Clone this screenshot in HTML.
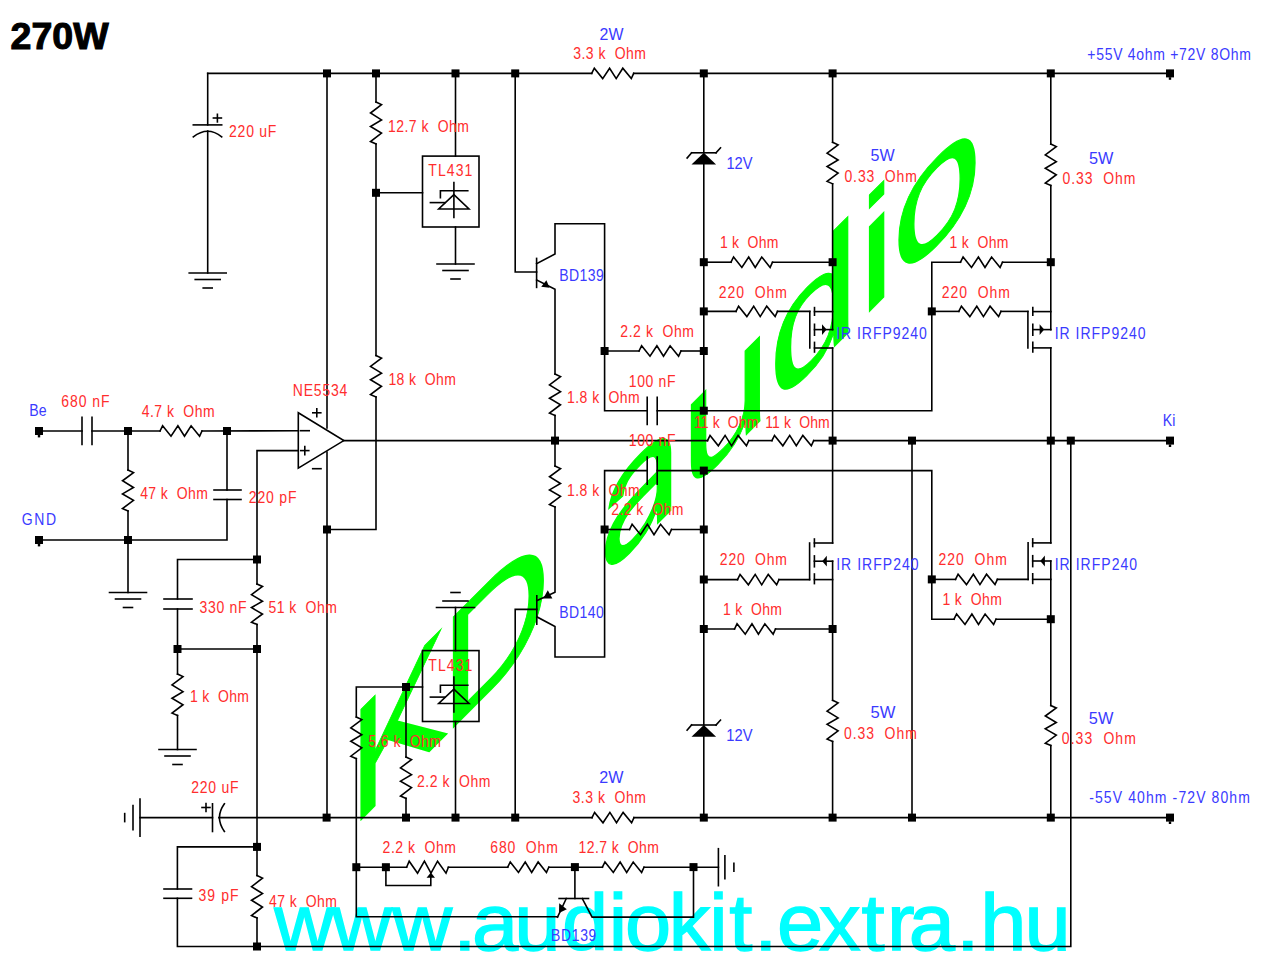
<!DOCTYPE html>
<html><head><meta charset="utf-8"><title>270W schematic</title>
<style>
html,body{margin:0;padding:0;background:#fff;}
body{width:1280px;height:969px;overflow:hidden;}
svg{display:block;}
svg text{font-family:"Liberation Sans",sans-serif;}
.s text{stroke:none;}
svg .d{fill:#000;stroke:none;}
</style></head><body>
<svg width="1280" height="969" viewBox="0 0 1280 969">
<g font-family="Liberation Sans, sans-serif"><text x="10.6" y="49.3" fill="#000" stroke="#000" stroke-width="1.1" style="font-size:37.6px;font-weight:bold" textLength="98" lengthAdjust="spacingAndGlyphs">270W</text>
<text x="347.8" y="1181" fill="#00ff00" stroke="#00ff00" stroke-width="1.2" style="font-size:161px" transform="matrix(1,-1,0,1,0,0) translate(361,0) scale(0.93,1) translate(-361,0)">K</text>
<text x="440.2" y="1181" fill="#00ff00" stroke="#00ff00" stroke-width="1.2" style="font-size:161px" transform="matrix(1,-1,0,1,0,0) translate(453.2,0) scale(0.943,1) translate(-453.2,0)">D</text>
<path d="M629.37 553.21Q617.47 565.10 611.48 564.33Q605.50 563.55 605.50 551.76Q605.50 538.55 613.56 523.41Q621.63 508.27 639.58 489.85L657.32 471.80V467.16Q657.32 456.78 653.23 456.39Q649.14 455.99 640.39 464.75Q631.55 473.58 627.54 480.82Q623.53 488.06 622.72 495.94L609.00 508.32Q612.36 482.01 640.68 453.69Q655.57 438.80 663.08 438.64Q670.60 438.47 670.60 452.38V489.02V510.40L657.76 523.24L657.32 507.41Q652.28 522.19 645.60 532.92Q638.93 543.65 629.37 553.21ZM632.36 539.60Q639.58 532.38 645.20 523.22Q650.82 514.06 654.07 504.64Q657.32 495.22 657.32 488.70V481.70L642.94 496.40Q633.67 505.82 628.89 512.49Q624.11 519.16 621.56 525.64Q619.00 532.13 619.00 538.49Q619.00 545.41 622.47 545.72Q625.93 546.02 632.36 539.60Z" fill="#00ff00" stroke="#00ff00" stroke-width="1.3"/>
<text x="681" y="1181" fill="#00ff00" stroke="#00ff00" stroke-width="1.2" style="font-size:161px" transform="matrix(1,-1,0,1,0,0)">u</text>
<text x="768.9" y="1181" fill="#00ff00" stroke="#00ff00" stroke-width="1.2" style="font-size:161px" transform="matrix(1,-1,0,1,0,0)">d</text>
<text x="858.8" y="1181" fill="#00ff00" stroke="#00ff00" stroke-width="1.2" style="font-size:161px" transform="matrix(1,-1,0,1,0,0)">i</text>
<text x="892.2" y="1181" fill="#00ff00" stroke="#00ff00" stroke-width="1.2" style="font-size:161px" transform="matrix(1,-1,0,1,0,0)">o</text>
<text x="274.14 332.09 392.29 453.17 472.11 514.38 561.9 608.7 624.97 668.74 709.3 729.15 754.37 776.9 818.98 861.4 886.91 908.66 956.37 980.19 1024.48" y="950.5" fill="#00ffff" stroke="#00ffff" stroke-width="1.4" style="font-size:83px" transform="translate(0,950.5) scale(1,0.968) translate(0,-950.5)">www.audiokit.extra.hu</text></g>
<g class="s" fill="none" stroke="#000" stroke-width="1.6" stroke-linecap="square" stroke-linejoin="miter"><polyline points="207.7,73.4 591.7,73.4"/>
<polyline points="591.7,73.4 594.3,68.2 602.7,78.6 609.6,68.2 616.2,78.6 622.8,68.2 631.3,78.6 633.7,73.4"/>
<polyline points="633.7,73.4 1170,73.4"/>
<rect class="d" x="323" y="69.4" width="8" height="8"/>
<rect class="d" x="372" y="69.4" width="8" height="8"/>
<rect class="d" x="451.5" y="69.4" width="8" height="8"/>
<rect class="d" x="511.2" y="69.4" width="8" height="8"/>
<rect class="d" x="699.8" y="69.4" width="8" height="8"/>
<rect class="d" x="828.6" y="69.4" width="8" height="8"/>
<rect class="d" x="1046.8" y="69.4" width="8" height="8"/>
<rect class="d" x="1166" y="69.4" width="8" height="8"/>
<rect class="d" x="1168.8" y="77.2" width="2.4" height="2.6"/>
<polyline points="140,817.6 212.5,817.6"/>
<polyline points="218.9,817.6 592,817.6"/>
<polyline points="592,817.6 594.6,812.4 603,822.8 609.9,812.4 616.5,822.8 623.1,812.4 631.6,822.8 634,817.6"/>
<polyline points="634,817.6 1170,817.6"/>
<rect class="d" x="322.6" y="813.6" width="8" height="8"/>
<rect class="d" x="402" y="813.6" width="8" height="8"/>
<rect class="d" x="451.5" y="813.6" width="8" height="8"/>
<rect class="d" x="511.2" y="813.6" width="8" height="8"/>
<rect class="d" x="699.8" y="813.6" width="8" height="8"/>
<rect class="d" x="828.6" y="813.6" width="8" height="8"/>
<rect class="d" x="908" y="813.6" width="8" height="8"/>
<rect class="d" x="1046.8" y="813.6" width="8" height="8"/>
<rect class="d" x="1166" y="813.6" width="8" height="8"/>
<rect class="d" x="1168.8" y="821.4" width="2.4" height="2.6"/>
<line x1="140" y1="799.1" x2="140" y2="836.1"/>
<line x1="133" y1="805.6" x2="133" y2="829.6"/>
<line x1="124.7" y1="813.6" x2="124.7" y2="821.6"/>
<line x1="212.5" y1="803.8" x2="212.5" y2="831.5"/>
<path d="M224.4,803.8 Q214.5,817.6 224.4,831.5" fill="none"/>
<line x1="202" y1="807.5" x2="210" y2="807.5"/>
<line x1="206" y1="803.5" x2="206" y2="811.5"/>
<polyline points="207.7,73.4 207.7,124.9"/>
<line x1="193.3" y1="124.9" x2="221.7" y2="124.9"/>
<path d="M193.3,136.9 Q207.7,125.5 221.7,136.9" fill="none"/>
<polyline points="207.7,131 207.7,273"/>
<line x1="189.2" y1="273" x2="226.2" y2="273"/>
<line x1="195.2" y1="279.5" x2="220.2" y2="279.5"/>
<line x1="203.2" y1="288" x2="212.2" y2="288"/>
<line x1="213.4" y1="118" x2="221.4" y2="118"/>
<line x1="217.4" y1="114.3" x2="217.4" y2="121.9"/>
<polyline points="327,73.4 327,428"/>
<polyline points="327,452 327,817.6"/>
<rect class="d" x="323" y="525.5" width="8" height="8"/>
<polygon fill="none" points="298.3,412.8 343.8,440.6 298.3,468.2"/>
<line x1="300.5" y1="430.7" x2="309.2" y2="430.7"/>
<line x1="300.8" y1="450.6" x2="308.8" y2="450.6"/>
<line x1="304.8" y1="446.6" x2="304.8" y2="454.6"/>
<line x1="312.8" y1="412.8" x2="320.8" y2="412.8"/>
<line x1="316.8" y1="408.8" x2="316.8" y2="416.8"/>
<line x1="312.7" y1="468.7" x2="321" y2="468.7"/>
<polyline points="376,73.4 376,102"/>
<polyline points="376,102 381.5,104.6 370.5,113 381.5,119.9 370.5,126.5 381.5,133.1 370.5,141.6 376,144"/>
<polyline points="376,144 376,355.5"/>
<polyline points="376,355.5 381.5,358.07 370.5,366.37 381.5,373.19 370.5,379.71 381.5,386.23 370.5,394.63 376,397"/>
<polyline points="376,397 376,529.5 327,529.5"/>
<rect class="d" x="372" y="188.8" width="8" height="8"/>
<line x1="376" y1="192.8" x2="422.5" y2="192.8"/>
<rect x="422.5" y="156.1" width="56.5" height="70.9" fill="none"/>
<line x1="453.9" y1="182.5" x2="453.9" y2="217.5"/>
<polyline points="440.4,197.8 440.4,190.8 467.8,190.8"/>
<polygon fill="none" points="453.9,194.7 438.7,209 469,209"/>
<line x1="430.4" y1="202.6" x2="444.8" y2="202.6"/>
<text x="428.29" y="176.3" fill="#ff2d2d" style="font-size:14px;" textLength="44" lengthAdjust="spacing" transform="translate(0,176.3) scale(1,1.143) translate(0,-176.3)">TL431</text>
<line x1="455.5" y1="73.4" x2="455.5" y2="156.1"/>
<line x1="455.5" y1="227" x2="455.5" y2="264"/>
<line x1="437" y1="264" x2="474" y2="264"/>
<line x1="443" y1="270.5" x2="468" y2="270.5"/>
<line x1="451" y1="279" x2="460" y2="279"/>
<polyline points="515.2,73.4 515.2,272 536.6,272"/>
<line x1="536.6" y1="258.4" x2="536.6" y2="287.4"/>
<polyline points="536.6,263.7 555,254 555,223.8 604.6,223.8 604.6,410.7 647.2,410.7"/>
<polyline points="536.6,280 555,289.2 555,374"/>
<polygon class="d" points="549.5,287.8 541.2,286.8 546.4,280.2"/>
<polyline points="555,374 560.5,376.57 549.5,384.87 560.5,391.69 549.5,398.21 560.5,404.73 549.5,413.13 555,415.5"/>
<polyline points="555,415.5 555,466"/>
<polyline points="555,466 560.5,468.54 549.5,476.74 560.5,483.47 549.5,489.92 560.5,496.36 549.5,504.66 555,507"/>
<polyline points="555,507 555,592.3 536.8,600.6"/>
<rect class="d" x="551" y="436.6" width="8" height="8"/>
<line x1="536.8" y1="595.8" x2="536.8" y2="624.3"/>
<polyline points="515.2,817.6 515.2,609.4 536.8,609.4"/>
<polyline points="536.8,616.8 555,626.5 555,657 604.6,657 604.6,470.6 647.2,470.6"/>
<polygon class="d" points="543.2,598.6 552.4,598.4 547.8,590.2"/>
<line x1="647.2" y1="397.2" x2="647.2" y2="424.4"/>
<line x1="657.2" y1="397.2" x2="657.2" y2="424.4"/>
<line x1="647.2" y1="457" x2="647.2" y2="484.2"/>
<line x1="657.2" y1="457" x2="657.2" y2="484.2"/>
<polyline points="657.2,410.7 931.8,410.7 931.8,262.2 960.5,262.2"/>
<polyline points="960.5,262.2 963.1,257 971.5,267.4 978.4,257 985,267.4 991.6,257 1000.1,267.4 1002.5,262.2"/>
<polyline points="1002.5,262.2 1050.8,262.2"/>
<polyline points="657.2,470.6 931.8,470.6 931.8,619.2 954,619.2"/>
<polyline points="954,619.2 956.6,614 965,624.4 971.9,614 978.5,624.4 985.1,614 993.6,624.4 996,619.2"/>
<polyline points="996,619.2 1050.8,619.2"/>
<rect class="d" x="600.6" y="347" width="8" height="8"/>
<rect class="d" x="600.6" y="525.5" width="8" height="8"/>
<polyline points="604.6,351 639,351"/>
<polyline points="639,351 641.6,345.8 650,356.2 656.9,345.8 663.5,356.2 670.1,345.8 678.6,356.2 681,351"/>
<polyline points="681,351 703.8,351"/>
<polyline points="604.6,529.5 629.5,529.5"/>
<polyline points="629.5,529.5 632.1,524.3 640.5,534.7 647.4,524.3 654,534.7 660.6,524.3 669.1,534.7 671.5,529.5"/>
<polyline points="671.5,529.5 703.8,529.5"/>
<polyline points="343.8,440.6 707.5,440.6"/>
<polyline points="707.5,440.6 710.06,435.4 718.32,445.8 725.1,435.4 731.59,445.8 738.08,435.4 746.44,445.8 748.8,440.6"/>
<polyline points="748.8,440.6 771.9,440.6"/>
<polyline points="771.9,440.6 774.49,435.4 782.85,445.8 789.71,435.4 796.28,445.8 802.85,435.4 811.31,445.8 813.7,440.6"/>
<polyline points="813.7,440.6 1170,440.6"/>
<rect class="d" x="828.6" y="436.6" width="8" height="8"/>
<rect class="d" x="908" y="436.6" width="8" height="8"/>
<rect class="d" x="1046.8" y="436.6" width="8" height="8"/>
<rect class="d" x="1066.8" y="436.6" width="8" height="8"/>
<rect class="d" x="1166" y="436.6" width="8" height="8"/>
<rect class="d" x="1168.8" y="444.4" width="2.4" height="2.6"/>
<polyline points="703.8,73.4 703.8,152.8"/>
<line x1="691.6" y1="152.8" x2="716" y2="152.8"/>
<line x1="691.6" y1="152.8" x2="687.1" y2="158"/>
<line x1="716" y1="152.8" x2="720.5" y2="147.9"/>
<polygon class="d" points="703.8,152.8 691.5,164.5 716.1,164.5"/>
<polyline points="703.8,164.5 703.8,410.7"/>
<rect class="d" x="699.8" y="258.2" width="8" height="8"/>
<rect class="d" x="699.8" y="307.4" width="8" height="8"/>
<rect class="d" x="699.8" y="347" width="8" height="8"/>
<rect class="d" x="699.8" y="406.7" width="8" height="8"/>
<polyline points="703.8,470.6 703.8,725"/>
<line x1="691.6" y1="725" x2="716" y2="725"/>
<line x1="691.6" y1="725" x2="687.1" y2="730.2"/>
<line x1="716" y1="725" x2="720.5" y2="720.1"/>
<polygon class="d" points="703.8,725 691.5,736.7 716.1,736.7"/>
<polyline points="703.8,736.7 703.8,817.6"/>
<rect class="d" x="699.8" y="466.6" width="8" height="8"/>
<rect class="d" x="699.8" y="525.5" width="8" height="8"/>
<rect class="d" x="699.8" y="575.5" width="8" height="8"/>
<rect class="d" x="699.8" y="625" width="8" height="8"/>
<polyline points="703.8,262.2 731,262.2"/>
<polyline points="731,262.2 733.57,257 741.87,267.4 748.69,257 755.21,267.4 761.73,257 770.13,267.4 772.5,262.2"/>
<polyline points="772.5,262.2 832.6,262.2"/>
<rect class="d" x="828.6" y="258.2" width="8" height="8"/>
<polyline points="703.8,311.4 736,311.4"/>
<polyline points="736,311.4 738.57,306.2 746.87,316.6 753.69,306.2 760.21,316.6 766.73,306.2 775.13,316.6 777.5,311.4"/>
<polyline points="777.5,311.4 809.8,311.4"/>
<line x1="809.8" y1="311.6" x2="809.8" y2="348"/>
<line x1="814.5" y1="307.6" x2="814.5" y2="315.2"/>
<line x1="814.5" y1="324.3" x2="814.5" y2="335.2"/>
<line x1="814.5" y1="342.4" x2="814.5" y2="352"/>
<line x1="814.5" y1="311.6" x2="832.6" y2="311.6"/>
<line x1="814.5" y1="329.6" x2="832.6" y2="329.6"/>
<line x1="814.5" y1="348" x2="832.6" y2="348"/>
<polygon class="d" points="826.6,329.6 822,324.2 822,335"/>
<polyline points="832.6,73.4 832.6,142.3"/>
<polyline points="832.6,142.3 838.1,144.87 827.1,153.17 838.1,159.99 827.1,166.51 838.1,173.03 827.1,181.43 832.6,183.8"/>
<polyline points="832.6,183.8 832.6,329.6"/>
<polyline points="832.6,348 832.6,543"/>
<polyline points="703.8,579.6 737.5,579.6"/>
<polyline points="737.5,579.6 740.07,574.4 748.37,584.8 755.19,574.4 761.71,584.8 768.23,574.4 776.63,584.8 779,579.6"/>
<polyline points="779,579.6 809.6,579.6"/>
<line x1="809.6" y1="543" x2="809.6" y2="579.6"/>
<line x1="814.4" y1="539" x2="814.4" y2="546.6"/>
<line x1="814.4" y1="555.9" x2="814.4" y2="566.8"/>
<line x1="814.4" y1="574" x2="814.4" y2="583.6"/>
<line x1="814.4" y1="543" x2="832.6" y2="543"/>
<line x1="814.4" y1="561.2" x2="832.6" y2="561.2"/>
<line x1="814.4" y1="579.6" x2="832.6" y2="579.6"/>
<polygon class="d" points="822.2,561.2 826.8,555.8 826.8,566.6"/>
<polyline points="832.6,561.2 832.6,700.3"/>
<polyline points="832.6,700.3 838.1,702.85 827.1,711.09 838.1,717.86 827.1,724.33 838.1,730.81 827.1,739.15 832.6,741.5"/>
<polyline points="832.6,741.5 832.6,817.6"/>
<polyline points="703.8,629 734.5,629"/>
<polyline points="734.5,629 737.04,623.8 745.24,634.2 751.97,623.8 758.42,634.2 764.86,623.8 773.16,634.2 775.5,629"/>
<polyline points="775.5,629 832.6,629"/>
<rect class="d" x="828.6" y="625" width="8" height="8"/>
<rect class="d" x="927.8" y="307.4" width="8" height="8"/>
<polyline points="931.8,311.4 958.8,311.4"/>
<polyline points="958.8,311.4 961.41,306.2 969.85,316.6 976.79,306.2 983.42,316.6 990.05,306.2 998.59,316.6 1001,311.4"/>
<polyline points="1001,311.4 1027.9,311.4"/>
<line x1="1027.9" y1="311.6" x2="1027.9" y2="347.9"/>
<line x1="1032.8" y1="307.6" x2="1032.8" y2="315.2"/>
<line x1="1032.8" y1="324.3" x2="1032.8" y2="335.2"/>
<line x1="1032.8" y1="342.3" x2="1032.8" y2="351.9"/>
<line x1="1032.8" y1="311.6" x2="1050.8" y2="311.6"/>
<line x1="1032.8" y1="329.6" x2="1050.8" y2="329.6"/>
<line x1="1032.8" y1="347.9" x2="1050.8" y2="347.9"/>
<polygon class="d" points="1044.2,329.6 1039.6,324.2 1039.6,335"/>
<rect class="d" x="1046.8" y="258.2" width="8" height="8"/>
<polyline points="1050.8,73.4 1050.8,144"/>
<polyline points="1050.8,144 1056.3,146.57 1045.3,154.87 1056.3,161.69 1045.3,168.21 1056.3,174.73 1045.3,183.13 1050.8,185.5"/>
<polyline points="1050.8,185.5 1050.8,329.6"/>
<polyline points="1050.8,347.9 1050.8,543"/>
<rect class="d" x="927.8" y="575.4" width="8" height="8"/>
<polyline points="931.8,579.4 955.5,579.4"/>
<polyline points="955.5,579.4 958.09,574.2 966.47,584.6 973.36,574.2 979.94,584.6 986.53,574.2 995.01,584.6 997.4,579.4"/>
<polyline points="997.4,579.4 1028.1,579.4"/>
<line x1="1028.1" y1="542.9" x2="1028.1" y2="579.4"/>
<line x1="1032.7" y1="538.9" x2="1032.7" y2="546.5"/>
<line x1="1032.7" y1="555.7" x2="1032.7" y2="566.6"/>
<line x1="1032.7" y1="573.8" x2="1032.7" y2="583.4"/>
<line x1="1032.7" y1="542.9" x2="1050.8" y2="542.9"/>
<line x1="1032.7" y1="561" x2="1050.8" y2="561"/>
<line x1="1032.7" y1="579.4" x2="1050.8" y2="579.4"/>
<polygon class="d" points="1040.3,561 1044.9,555.6 1044.9,566.4"/>
<polyline points="1050.8,561 1050.8,705.5"/>
<polyline points="1050.8,705.5 1056.3,707.98 1045.3,715.98 1056.3,722.55 1045.3,728.83 1056.3,735.12 1045.3,743.21 1050.8,745.5"/>
<polyline points="1050.8,745.5 1050.8,817.6"/>
<rect class="d" x="1046.8" y="615.2" width="8" height="8"/>
<line x1="912" y1="440.6" x2="912" y2="817.6"/>
<polyline points="1070.8,440.6 1070.8,946.5 257,946.5"/>
<rect class="d" x="35" y="427" width="8" height="8"/>
<rect class="d" x="37.8" y="434.8" width="2.4" height="2.6"/>
<polyline points="39,431 82,431"/>
<line x1="82" y1="417.2" x2="82" y2="444.5"/>
<line x1="92" y1="417.2" x2="92" y2="444.5"/>
<polyline points="92,431 160,431"/>
<polyline points="160,431 162.6,425.8 171,436.2 177.9,425.8 184.5,436.2 191.1,425.8 199.6,436.2 202,431"/>
<polyline points="202,431 298.3,430.7"/>
<rect class="d" x="124" y="427" width="8" height="8"/>
<rect class="d" x="223" y="427" width="8" height="8"/>
<polyline points="128,431 128,470"/>
<polyline points="128,470 133.5,472.54 122.5,480.74 133.5,487.47 122.5,493.92 133.5,500.36 122.5,508.66 128,511"/>
<polyline points="128,511 128,592.5"/>
<line x1="109.5" y1="592.5" x2="146.5" y2="592.5"/>
<line x1="115.5" y1="599" x2="140.5" y2="599"/>
<line x1="123.5" y1="607.5" x2="132.5" y2="607.5"/>
<rect class="d" x="35" y="536" width="8" height="8"/>
<rect class="d" x="37.8" y="543.8" width="2.4" height="2.6"/>
<rect class="d" x="124" y="536" width="8" height="8"/>
<polyline points="39,540 227,540 227,499.5"/>
<line x1="214" y1="499.5" x2="241" y2="499.5"/>
<line x1="214" y1="490" x2="241" y2="490"/>
<line x1="227" y1="490" x2="227" y2="431"/>
<polyline points="298.3,450.6 257,450.6 257,584"/>
<polyline points="257,584 262.5,586.51 251.5,594.61 262.5,601.26 251.5,607.62 262.5,613.99 251.5,622.19 257,624.5"/>
<polyline points="257,624.5 257,875.5"/>
<polyline points="257,875.5 262.5,878.13 251.5,886.63 262.5,893.61 251.5,900.29 262.5,906.97 251.5,915.57 257,918"/>
<polyline points="257,918 257,946.5"/>
<rect class="d" x="253" y="555.5" width="8" height="8"/>
<rect class="d" x="253" y="645" width="8" height="8"/>
<rect class="d" x="173.5" y="645" width="8" height="8"/>
<rect class="d" x="253" y="842.9" width="8" height="8"/>
<rect class="d" x="253" y="942.5" width="8" height="8"/>
<polyline points="257,559.5 177.5,559.5 177.5,599"/>
<line x1="164" y1="599" x2="192" y2="599"/>
<line x1="164" y1="609" x2="192" y2="609"/>
<polyline points="177.5,609 177.5,674"/>
<polyline points="177.5,649 257,649"/>
<polyline points="177.5,674 183,676.57 172,684.87 183,691.69 172,698.21 183,704.73 172,713.13 177.5,715.5"/>
<polyline points="177.5,715.5 177.5,749.5"/>
<line x1="159" y1="749.5" x2="196" y2="749.5"/>
<line x1="165" y1="756" x2="190" y2="756"/>
<line x1="173" y1="764.5" x2="182" y2="764.5"/>
<polyline points="257,846.9 177.4,846.9 177.4,889"/>
<line x1="164" y1="889" x2="191.5" y2="889"/>
<line x1="164" y1="898.3" x2="191.5" y2="898.3"/>
<polyline points="177.4,898.3 177.4,946.5 257,946.5"/>
<rect x="422.5" y="650.6" width="56.5" height="70.9" fill="none"/>
<line x1="453.9" y1="677" x2="453.9" y2="712"/>
<polyline points="440.4,692.3 440.4,685.3 467.8,685.3"/>
<polygon fill="none" points="453.9,689.2 438.7,703.5 469,703.5"/>
<line x1="430.4" y1="697.1" x2="444.8" y2="697.1"/>
<text x="428.29" y="670.8" fill="#ff2d2d" style="font-size:14px;" textLength="44" lengthAdjust="spacing" transform="translate(0,670.8) scale(1,1.143) translate(0,-670.8)">TL431</text>
<line x1="436.5" y1="607.5" x2="474.5" y2="607.5"/>
<line x1="443" y1="601" x2="468" y2="601"/>
<line x1="451" y1="592.5" x2="460" y2="592.5"/>
<line x1="455.5" y1="607.5" x2="455.5" y2="650.6"/>
<line x1="455.5" y1="721.5" x2="455.5" y2="817.6"/>
<polyline points="422.5,687 356.3,687 356.3,717"/>
<polyline points="356.3,717 361.8,719.58 350.8,727.9 361.8,734.73 350.8,741.27 361.8,747.8 350.8,756.22 356.3,758.6"/>
<polyline points="356.3,758.6 356.3,916.7 557.5,916.7"/>
<rect class="d" x="402" y="683" width="8" height="8"/>
<polyline points="406,687 406,757"/>
<polyline points="406,757 411.5,759.56 400.5,767.84 411.5,774.64 400.5,781.15 411.5,787.66 400.5,796.03 406,798.4"/>
<polyline points="406,798.4 406,817.6"/>
<rect class="d" x="352.3" y="863.2" width="8" height="8"/>
<rect class="d" x="381.9" y="863.2" width="8" height="8"/>
<rect class="d" x="570.9" y="863.1" width="8" height="8"/>
<rect class="d" x="689.5" y="863.1" width="8" height="8"/>
<polyline points="356.3,867.2 406.6,867.2"/>
<polyline points="406.6,867.2 409.19,861.2 417.55,873.2 424.41,861.2 430.98,873.2 437.55,861.2 446.01,873.2 448.4,867.2"/>
<polyline points="448.4,867.2 507.7,867.2"/>
<polyline points="507.7,867.2 510.24,862 518.46,872.4 525.22,862 531.67,872.4 538.13,862 546.45,872.4 548.8,867.2"/>
<polyline points="548.8,867.2 602.4,867.2"/>
<polyline points="602.4,867.2 604.98,862 613.3,872.4 620.13,862 626.67,872.4 633.2,862 641.62,872.4 644,867.2"/>
<polyline points="644,867.2 718.4,867.2"/>
<line x1="718.4" y1="848.7" x2="718.4" y2="885.7"/>
<line x1="724.9" y1="855.7" x2="724.9" y2="878.7"/>
<line x1="733.9" y1="863.2" x2="733.9" y2="871.2"/>
<polyline points="385.9,867.2 385.9,885.5 430.8,885.5 430.8,875.5"/>
<polygon class="d" points="430.8,872.5 426.6,877.8 435,877.8"/>
<polyline points="574.9,867.1 574.9,898.5"/>
<line x1="559.1" y1="898.5" x2="588.5" y2="898.5"/>
<polyline points="566.3,898.5 557.5,917.1"/>
<polyline points="582.3,898.5 592.1,917.1 693.5,917.1 693.5,867.1"/>
<polygon class="d" points="559.2,903.2 566.8,909.2 559,913"/>
<text x="0" y="0"></text>
<text x="628.83" y="446.1" fill="#ff2d2d" style="font-size:14px;" textLength="46.63" lengthAdjust="spacing" transform="translate(0,446.1) scale(1,1.143) translate(0,-446.1)">100&#160;nF</text>
<text x="229.1" y="137.1" fill="#ff2d2d" style="font-size:14px;" textLength="47.26" lengthAdjust="spacing" transform="translate(0,137.1) scale(1,1.143) translate(0,-137.1)">220&#160;uF</text>
<text x="387.93" y="132" fill="#ff2d2d" style="font-size:14px;" textLength="80.99" lengthAdjust="spacing" transform="translate(0,132) scale(1,1.143) translate(0,-132)">12.7&#160;k&#160;&#160;Ohm</text>
<text x="573.17" y="59.4" fill="#ff2d2d" style="font-size:14px;" textLength="72.86" lengthAdjust="spacing" transform="translate(0,59.4) scale(1,1.143) translate(0,-59.4)">3.3&#160;k&#160;&#160;Ohm</text>
<text x="599.6" y="39.7" fill="#3a3aff" style="font-size:14px;" textLength="23.85" lengthAdjust="spacingAndGlyphs" transform="translate(0,39.7) scale(1,1.143) translate(0,-39.7)">2W</text>
<text x="726.43" y="168.6" fill="#3a3aff" style="font-size:14px;" textLength="26.13" lengthAdjust="spacingAndGlyphs" transform="translate(0,168.6) scale(1,1.143) translate(0,-168.6)">12V</text>
<text x="870.44" y="161" fill="#3a3aff" style="font-size:14px;" textLength="24.11" lengthAdjust="spacingAndGlyphs" transform="translate(0,161) scale(1,1.143) translate(0,-161)">5W</text>
<text x="844.45" y="182" fill="#ff2d2d" style="font-size:14px;" textLength="72.47" lengthAdjust="spacing" transform="translate(0,182) scale(1,1.143) translate(0,-182)">0.33&#160;&#160;Ohm</text>
<text x="1088.94" y="164" fill="#3a3aff" style="font-size:14px;" textLength="24.41" lengthAdjust="spacingAndGlyphs" transform="translate(0,164) scale(1,1.143) translate(0,-164)">5W</text>
<text x="1062.45" y="184" fill="#ff2d2d" style="font-size:14px;" textLength="72.97" lengthAdjust="spacing" transform="translate(0,184) scale(1,1.143) translate(0,-184)">0.33&#160;&#160;Ohm</text>
<text x="1087.32" y="60" fill="#3a3aff" style="font-size:14px;" textLength="163.61" lengthAdjust="spacing" transform="translate(0,60) scale(1,1.143) translate(0,-60)">+55V&#160;4ohm&#160;+72V&#160;8Ohm</text>
<text x="559.15" y="280.8" fill="#3a3aff" style="font-size:14px;" textLength="44.71" lengthAdjust="spacing" transform="translate(0,280.8) scale(1,1.143) translate(0,-280.8)">BD139</text>
<text x="719.93" y="248" fill="#ff2d2d" style="font-size:14px;" textLength="58.49" lengthAdjust="spacing" transform="translate(0,248) scale(1,1.143) translate(0,-248)">1&#160;k&#160;&#160;Ohm</text>
<text x="718.8" y="298" fill="#ff2d2d" style="font-size:14px;" textLength="68.13" lengthAdjust="spacing" transform="translate(0,298) scale(1,1.143) translate(0,-298)">220&#160;&#160;Ohm</text>
<text x="949.53" y="248" fill="#ff2d2d" style="font-size:14px;" textLength="58.89" lengthAdjust="spacing" transform="translate(0,248) scale(1,1.143) translate(0,-248)">1&#160;k&#160;&#160;Ohm</text>
<text x="941.7" y="297.7" fill="#ff2d2d" style="font-size:14px;" textLength="68.33" lengthAdjust="spacing" transform="translate(0,297.7) scale(1,1.143) translate(0,-297.7)">220&#160;&#160;Ohm</text>
<text x="836.21" y="339" fill="#3a3aff" style="font-size:14px;" textLength="90.64" lengthAdjust="spacing" transform="translate(0,339) scale(1,1.143) translate(0,-339)">IR&#160;IRFP9240</text>
<text x="1054.71" y="339" fill="#3a3aff" style="font-size:14px;" textLength="90.84" lengthAdjust="spacing" transform="translate(0,339) scale(1,1.143) translate(0,-339)">IR&#160;IRFP9240</text>
<text x="620.3" y="337" fill="#ff2d2d" style="font-size:14px;" textLength="73.63" lengthAdjust="spacing" transform="translate(0,337) scale(1,1.143) translate(0,-337)">2.2&#160;k&#160;&#160;Ohm</text>
<text x="628.83" y="386.6" fill="#ff2d2d" style="font-size:14px;" textLength="46.63" lengthAdjust="spacing" transform="translate(0,386.6) scale(1,1.143) translate(0,-386.6)">100&#160;nF</text>
<text x="566.93" y="403" fill="#ff2d2d" style="font-size:14px;" textLength="72.79" lengthAdjust="spacing" transform="translate(0,403) scale(1,1.143) translate(0,-403)">1.8&#160;k&#160;&#160;Ohm</text>
<text x="388.43" y="385" fill="#ff2d2d" style="font-size:14px;" textLength="67.49" lengthAdjust="spacing" transform="translate(0,385) scale(1,1.143) translate(0,-385)">18&#160;k&#160;&#160;Ohm</text>
<text x="292.85" y="396.4" fill="#ff2d2d" style="font-size:14px;" textLength="54.56" lengthAdjust="spacing" transform="translate(0,396.4) scale(1,1.143) translate(0,-396.4)">NE5534</text>
<text x="61.29" y="407" fill="#ff2d2d" style="font-size:14px;" textLength="48.27" lengthAdjust="spacing" transform="translate(0,407) scale(1,1.143) translate(0,-407)">680&#160;nF</text>
<text x="29.35" y="416" fill="#3a3aff" style="font-size:14px;" textLength="17.27" lengthAdjust="spacingAndGlyphs" transform="translate(0,416) scale(1,1.143) translate(0,-416)">Be</text>
<text x="141.68" y="417" fill="#ff2d2d" style="font-size:14px;" textLength="73.04" lengthAdjust="spacing" transform="translate(0,417) scale(1,1.143) translate(0,-417)">4.7&#160;k&#160;&#160;Ohm</text>
<text x="1162.85" y="426" fill="#3a3aff" style="font-size:14px;" textLength="12.59" lengthAdjust="spacingAndGlyphs" transform="translate(0,426) scale(1,1.143) translate(0,-426)">Ki</text>
<text x="693.93" y="427.8" fill="#ff2d2d" style="font-size:14px;" textLength="64.49" lengthAdjust="spacing" transform="translate(0,427.8) scale(1,1.143) translate(0,-427.8)">11&#160;k&#160;&#160;Ohm</text>
<text x="765.23" y="427.8" fill="#ff2d2d" style="font-size:14px;" textLength="64.49" lengthAdjust="spacing" transform="translate(0,427.8) scale(1,1.143) translate(0,-427.8)">11&#160;k&#160;&#160;Ohm</text>
<text x="140.18" y="499.5" fill="#ff2d2d" style="font-size:14px;" textLength="67.74" lengthAdjust="spacing" transform="translate(0,499.5) scale(1,1.143) translate(0,-499.5)">47&#160;k&#160;&#160;Ohm</text>
<text x="248.8" y="503.5" fill="#ff2d2d" style="font-size:14px;" textLength="47.76" lengthAdjust="spacing" transform="translate(0,503.5) scale(1,1.143) translate(0,-503.5)">220&#160;pF</text>
<text x="21.8" y="525.5" fill="#3a3aff" style="font-size:14px;" textLength="34.37" lengthAdjust="spacing" transform="translate(0,525.5) scale(1,1.143) translate(0,-525.5)">GND</text>
<text x="566.93" y="496" fill="#ff2d2d" style="font-size:14px;" textLength="72.79" lengthAdjust="spacing" transform="translate(0,496) scale(1,1.143) translate(0,-496)">1.8&#160;k&#160;&#160;Ohm</text>
<text x="611.3" y="515.5" fill="#ff2d2d" style="font-size:14px;" textLength="72.13" lengthAdjust="spacing" transform="translate(0,515.5) scale(1,1.143) translate(0,-515.5)">2.2&#160;k&#160;&#160;Ohm</text>
<text x="719.8" y="565.5" fill="#ff2d2d" style="font-size:14px;" textLength="67.13" lengthAdjust="spacing" transform="translate(0,565.5) scale(1,1.143) translate(0,-565.5)">220&#160;&#160;Ohm</text>
<text x="836.21" y="570" fill="#3a3aff" style="font-size:14px;" textLength="82.34" lengthAdjust="spacing" transform="translate(0,570) scale(1,1.143) translate(0,-570)">IR&#160;IRFP240</text>
<text x="938.4" y="565.4" fill="#ff2d2d" style="font-size:14px;" textLength="68.43" lengthAdjust="spacing" transform="translate(0,565.4) scale(1,1.143) translate(0,-565.4)">220&#160;&#160;Ohm</text>
<text x="1054.71" y="570" fill="#3a3aff" style="font-size:14px;" textLength="82.34" lengthAdjust="spacing" transform="translate(0,570) scale(1,1.143) translate(0,-570)">IR&#160;IRFP240</text>
<text x="942.43" y="605" fill="#ff2d2d" style="font-size:14px;" textLength="59.49" lengthAdjust="spacing" transform="translate(0,605) scale(1,1.143) translate(0,-605)">1&#160;k&#160;&#160;Ohm</text>
<text x="722.93" y="615" fill="#ff2d2d" style="font-size:14px;" textLength="58.99" lengthAdjust="spacing" transform="translate(0,615) scale(1,1.143) translate(0,-615)">1&#160;k&#160;&#160;Ohm</text>
<text x="199.47" y="613" fill="#ff2d2d" style="font-size:14px;" textLength="47.09" lengthAdjust="spacing" transform="translate(0,613) scale(1,1.143) translate(0,-613)">330&#160;nF</text>
<text x="268.44" y="613" fill="#ff2d2d" style="font-size:14px;" textLength="68.48" lengthAdjust="spacing" transform="translate(0,613) scale(1,1.143) translate(0,-613)">51&#160;k&#160;&#160;Ohm</text>
<text x="559.15" y="618.2" fill="#3a3aff" style="font-size:14px;" textLength="44.6" lengthAdjust="spacing" transform="translate(0,618.2) scale(1,1.143) translate(0,-618.2)">BD140</text>
<text x="189.93" y="702.5" fill="#ff2d2d" style="font-size:14px;" textLength="58.99" lengthAdjust="spacing" transform="translate(0,702.5) scale(1,1.143) translate(0,-702.5)">1&#160;k&#160;&#160;Ohm</text>
<text x="870.44" y="718.4" fill="#3a3aff" style="font-size:14px;" textLength="24.91" lengthAdjust="spacingAndGlyphs" transform="translate(0,718.4) scale(1,1.143) translate(0,-718.4)">5W</text>
<text x="843.95" y="739" fill="#ff2d2d" style="font-size:14px;" textLength="72.87" lengthAdjust="spacing" transform="translate(0,739) scale(1,1.143) translate(0,-739)">0.33&#160;&#160;Ohm</text>
<text x="726.33" y="740.6" fill="#3a3aff" style="font-size:14px;" textLength="26.23" lengthAdjust="spacingAndGlyphs" transform="translate(0,740.6) scale(1,1.143) translate(0,-740.6)">12V</text>
<text x="1088.84" y="724" fill="#3a3aff" style="font-size:14px;" textLength="24.51" lengthAdjust="spacingAndGlyphs" transform="translate(0,724) scale(1,1.143) translate(0,-724)">5W</text>
<text x="1061.75" y="744.1" fill="#ff2d2d" style="font-size:14px;" textLength="74.17" lengthAdjust="spacing" transform="translate(0,744.1) scale(1,1.143) translate(0,-744.1)">0.33&#160;&#160;Ohm</text>
<text x="368.24" y="747" fill="#ff2d2d" style="font-size:14px;" textLength="72.68" lengthAdjust="spacing" transform="translate(0,747) scale(1,1.143) translate(0,-747)">5.6&#160;k&#160;&#160;Ohm</text>
<text x="417" y="787" fill="#ff2d2d" style="font-size:14px;" textLength="73.43" lengthAdjust="spacing" transform="translate(0,787) scale(1,1.143) translate(0,-787)">2.2&#160;k&#160;&#160;Ohm</text>
<text x="599.3" y="783" fill="#3a3aff" style="font-size:14px;" textLength="24.15" lengthAdjust="spacingAndGlyphs" transform="translate(0,783) scale(1,1.143) translate(0,-783)">2W</text>
<text x="191.2" y="793.5" fill="#ff2d2d" style="font-size:14px;" textLength="47.46" lengthAdjust="spacing" transform="translate(0,793.5) scale(1,1.143) translate(0,-793.5)">220&#160;uF</text>
<text x="572.47" y="803.5" fill="#ff2d2d" style="font-size:14px;" textLength="73.46" lengthAdjust="spacing" transform="translate(0,803.5) scale(1,1.143) translate(0,-803.5)">3.3&#160;k&#160;&#160;Ohm</text>
<text x="1089.18" y="803.5" fill="#3a3aff" style="font-size:14px;" textLength="160.74" lengthAdjust="spacing" transform="translate(0,803.5) scale(1,1.143) translate(0,-803.5)">-55V&#160;40hm&#160;-72V&#160;80hm</text>
<text x="382.6" y="852.9" fill="#ff2d2d" style="font-size:14px;" textLength="73.33" lengthAdjust="spacing" transform="translate(0,852.9) scale(1,1.143) translate(0,-852.9)">2.2&#160;k&#160;&#160;Ohm</text>
<text x="490.29" y="853" fill="#ff2d2d" style="font-size:14px;" textLength="67.63" lengthAdjust="spacing" transform="translate(0,853) scale(1,1.143) translate(0,-853)">680&#160;&#160;Ohm</text>
<text x="578.53" y="853" fill="#ff2d2d" style="font-size:14px;" textLength="80.39" lengthAdjust="spacing" transform="translate(0,853) scale(1,1.143) translate(0,-853)">12.7&#160;k&#160;&#160;Ohm</text>
<text x="198.47" y="901.5" fill="#ff2d2d" style="font-size:14px;" textLength="40.09" lengthAdjust="spacing" transform="translate(0,901.5) scale(1,1.143) translate(0,-901.5)">39&#160;pF</text>
<text x="269.08" y="907" fill="#ff2d2d" style="font-size:14px;" textLength="67.84" lengthAdjust="spacing" transform="translate(0,907) scale(1,1.143) translate(0,-907)">47&#160;k&#160;&#160;Ohm</text>
<text x="551.05" y="940.8" fill="#3a3aff" style="font-size:14px;" textLength="45.31" lengthAdjust="spacing" transform="translate(0,940.8) scale(1,1.143) translate(0,-940.8)">BD139</text></g>
</svg>
</body></html>
